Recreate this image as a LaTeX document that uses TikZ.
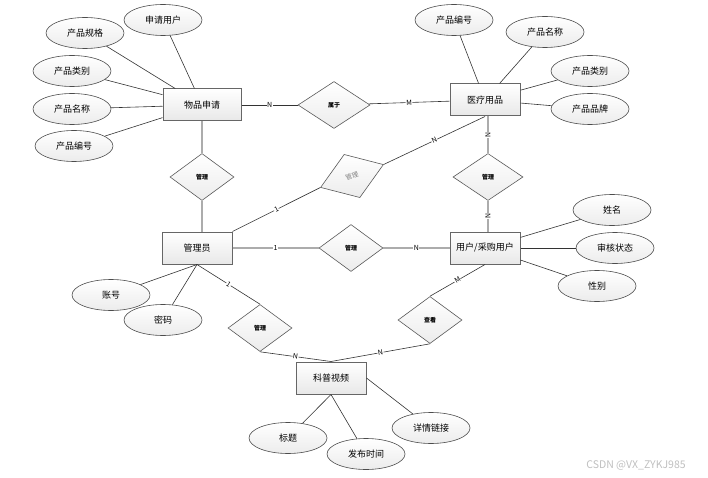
\documentclass[tikz,border=0pt]{standalone}
\usepackage{fontspec}
\setmainfont{Noto Sans CJK SC}
\usetikzlibrary{shapes.geometric, positioning}

\begin{document}
\begin{tikzpicture}[
            x=1pt, y=-1pt,
            entity/.style={rectangle, draw=gray!80!black, line width=1pt, top color=white, bottom color=gray!18, minimum width=70pt, minimum height=32pt, align=center, font=\fontsize{9}{11}\selectfont},
            attr/.style={ellipse, draw=gray!60!black, line width=0.6pt, top color=white, bottom color=gray!15, minimum width=78pt, minimum height=31pt, inner sep=0pt, font=\fontsize{9}{11}\selectfont},
            rel/.style={diamond, draw=gray!70!black, line width=0.6pt, top color=white, bottom color=gray!15, minimum width=64pt, minimum height=47pt, inner sep=0pt, font=\fontsize{6}{7}\selectfont\bfseries},
            link/.style={draw=gray!65, line width=1.2pt},
            attrline/.style={draw=gray!40!black, line width=0.6pt},
            card/.style={midway, sloped, fill=white, inner sep=0.5pt, font=\fontsize{7}{8}\selectfont}
        ]
        \useasboundingbox (0,0) rectangle (708,478);

        % Entities
        \node[entity, minimum width=78pt] (apply) at (202,105) {物品申请};
        \node[entity] (medical) at (485,100) {医疗用品};
        \node[entity] (admin) at (197,248) {管理员};
        \node[entity] (user) at (485,248) {用户/采购用户};
        \node[entity] (video) at (331,378) {科普视频};

        % Attributes of apply
        \node[attr] (applicant) at (163,20) {申请用户};
        \node[attr] (aspec) at (85,33) {产品规格};
        \node[attr] (acat) at (72,71) {产品类别};
        \node[attr] (aname) at (72,109) {产品名称};
        \node[attr] (ano) at (74,146) {产品编号};

        % Attributes of medical
        \node[attr] (mno) at (454,20) {产品编号};
        \node[attr] (mname) at (545,32) {产品名称};
        \node[attr] (mcat) at (590,71) {产品类别};
        \node[attr] (mbrand) at (590,109) {产品品牌};

        % Attributes of user
        \node[attr] (uname) at (612,210) {姓名};
        \node[attr] (ustate) at (615,248) {审核状态};
        \node[attr] (usex) at (597,286) {性别};

        % Attributes of admin
        \node[attr] (account) at (111,295) {账号};
        \node[attr] (passwd) at (163,320) {密码};

        % Attributes of video
        \node[attr] (title) at (288,438) {标题};
        \node[attr] (pubtime) at (366,454) {发布时间};
        \node[attr] (vlink) at (431,428) {详情链接};

        % Relations
        \node[rel, minimum width=72pt] (belong) at (334,105) {属于};
        \node[rel, minimum width=70pt] (manmed) at (488,177) {管理};
        \node[rel] (manapply) at (202,177) {管理};
        \node[rel, minimum width=67pt, minimum height=46pt, rotate=20, text=gray, font=\fontsize{6.5}{7}\selectfont] (manrot) at (352,176) {管理};
        \node[rel] (manuser) at (351,248) {管理};
        \node[rel] (manvideo) at (260,328) {管理};
        \node[rel] (view) at (430,320) {查看};

        % Attribute lines
        \foreach \a in {applicant, aspec, acat, aname, ano}
            \draw[attrline] (apply) -- (\a);
        \foreach \a in {mno, mname, mcat, mbrand}
            \draw[attrline] (medical) -- (\a);
        \foreach \a in {uname, ustate, usex}
            \draw[attrline] (user) -- (\a);
        \draw[attrline] (admin.south) -- (account);
        \draw[attrline] (admin.south) -- (passwd);
        \draw[attrline] (video.south) -- (title);
        \draw[attrline] (video.south) -- (pubtime);
        \draw[attrline] (video.east) -- (vlink);

        % Relation lines
        \draw[attrline] (apply) -- node[card] {N} (belong);
        \draw[attrline] (belong) -- node[card] {M} (medical);
        \draw[link] (manapply.north) -- (manapply.north |- apply.south);
        \draw[link] (manapply.south) -- (manapply.south |- admin.north);
        \draw[link] (medical.south -| manmed) -- node[card] {N} (manmed.north);
        \draw[link] (manmed.south) -- node[card] {N} (manmed.south |- user.north);
        \draw[attrline] (admin.north east) -- node[card] {1} (manrot.west);
        \draw[attrline] (manrot.east) -- node[card] {N} (medical.south);
        \draw[link] (admin) -- node[card] {1} (manuser);
        \draw[link] (manuser) -- node[card] {N} (user);
        \draw[attrline] (admin.south) -- node[card] {1} (manvideo.north);
        \draw[attrline] (manvideo.south) -- node[card] {N} (video.north);
        \draw[attrline] (user.south) -- node[card] {M} (view.north);
        \draw[attrline] (view.south) -- node[card] {N} (video.north);

        % Watermark
        \node[text=gray!50, font=\fontsize{10.5}{12}\selectfont] (mark) at (636,465) {CSDN @VX\_ZYKJ985};

    \end{tikzpicture}
\end{document}
